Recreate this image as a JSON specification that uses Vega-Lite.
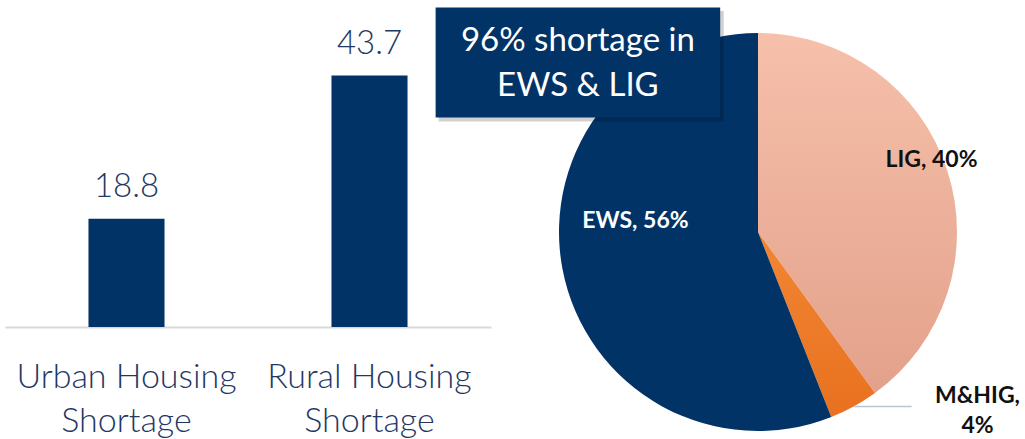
{
  "$schema": "https://vega.github.io/schema/vega-lite/v6.json",
  "padding": {"left": 5, "top": 7, "right": 0, "bottom": 0},
  "bounds": "flush",
  "spacing": 68,
  "config": {"view": {"stroke": null}, "font": "Lato"},
  "hconcat": [
    {
      "width": 486,
      "height": 294,
      "data": {"values": [
        {"category": "Urban Housing Shortage", "value": 18.8},
        {"category": "Rural Housing Shortage", "value": 43.7}
      ]},
      "encoding": {
        "x": {"field": "category", "type": "nominal", "sort": null, "title": null,
          "scale": {"paddingInner": 0, "paddingOuter": 0},
          "axis": {"labelAngle": 0, "ticks": false, "domainColor": "#D9D9D9", "domainWidth": 2,
            "labelFont": "Lato", "labelFontSize": 34, "labelFontWeight": 300, "labelColor": "#1F3864",
            "labelBaseline": "top", "labelPadding": 33, "labelLineHeight": 44, "labelLimit": 400,
            "labelExpr": "split(replace(datum.label, ' Shortage', '|Shortage'), '|')"}},
        "y": {"field": "value", "type": "quantitative", "scale": {"domain": [0, 51.1], "nice": false}, "axis": null}
      },
      "layer": [
        {"mark": {"type": "bar", "color": "#023366", "width": {"band": 0.313}}},
        {"mark": {"type": "text", "baseline": "alphabetic", "dy": -22, "fontSize": 33, "fontWeight": 300, "color": "#1F3864", "font": "Lato"},
         "encoding": {"text": {"field": "value", "type": "quantitative", "format": ".1f"}}}
      ]
    },
    {
      "width": 398,
      "height": 398,
      "data": {"values": [
        {"segment": "LIG", "share": 40, "rank": 1},
        {"segment": "M&HIG", "share": 4, "rank": 2},
        {"segment": "EWS", "share": 56, "rank": 3}
      ]},
      "layer": [
        {
          "mark": {"type": "arc"},
          "encoding": {
            "theta": {"field": "share", "type": "quantitative", "stack": true},
            "order": {"field": "rank", "type": "quantitative"},
            "color": {
              "condition": [
                {"test": "datum.segment == 'LIG'", "value": {"gradient": "linear", "x1": 0, "y1": 0, "x2": 0, "y2": 1, "stops": [{"offset": 0, "color": "#F6C0AA"}, {"offset": 1, "color": "#E3A18B"}]}},
                {"test": "datum.segment == 'M&HIG'", "value": {"gradient": "linear", "x1": 0, "y1": 0, "x2": 0, "y2": 1, "stops": [{"offset": 0, "color": "#F28634"}, {"offset": 1, "color": "#E8711F"}]}}
              ],
              "field": "segment", "type": "nominal", "legend": null,
              "scale": {"domain": ["LIG", "M&HIG", "EWS"], "range": ["#EFB49D", "#EE7A2A", "#023366"]}}
          }
        },
        {
          "transform": [{"filter": "datum.segment == 'LIG'"}],
          "mark": {"type": "text", "fontSize": 23, "fontWeight": "bold", "color": "#111111", "baseline": "alphabetic", "font": "Lato"},
          "encoding": {
            "x": {"datum": 0.872, "type": "quantitative", "scale": {"domain": [-1, 1], "nice": false, "zero": false}, "axis": null},
            "y": {"datum": 0.329, "type": "quantitative", "scale": {"domain": [-1, 1], "nice": false, "zero": false}, "axis": null},
            "text": {"value": "LIG, 40%"}
          }
        },
        {
          "transform": [{"filter": "datum.segment == 'EWS'"}],
          "mark": {"type": "text", "fontSize": 23, "fontWeight": "bold", "color": "#FFFFFF", "baseline": "alphabetic", "font": "Lato"},
          "encoding": {
            "x": {"datum": -0.616, "type": "quantitative"},
            "y": {"datum": 0.0226, "type": "quantitative"},
            "text": {"value": "EWS, 56%"}
          }
        },
        {
          "transform": [{"filter": "datum.segment == 'M&HIG'"}],
          "mark": {"type": "rule", "color": "#B9C5D5", "strokeWidth": 1.5},
          "encoding": {
            "x": {"datum": 0.482, "type": "quantitative"},
            "x2": {"datum": 0.772},
            "y": {"datum": -0.877, "type": "quantitative"}
          }
        },
        {
          "transform": [{"filter": "datum.segment == 'M&HIG'"}],
          "mark": {"type": "text", "fontSize": 23, "fontWeight": "bold", "color": "#111111", "baseline": "alphabetic", "lineHeight": 30, "font": "Lato"},
          "encoding": {
            "x": {"datum": 1.103, "type": "quantitative"},
            "y": {"datum": -0.857, "type": "quantitative"},
            "text": {"value": ["M&HIG,", "4%"]}
          }
        },
        {
          "transform": [{"filter": "datum.segment == 'EWS'"}],
          "mark": {"type": "rect", "color": "#000000", "opacity": 0.18},
          "encoding": {
            "x": {"datum": -1.605, "type": "quantitative"},
            "x2": {"datum": -0.172},
            "y": {"datum": 1.11, "type": "quantitative"},
            "y2": {"datum": 0.555}
          }
        },
        {
          "transform": [{"filter": "datum.segment == 'EWS'"}],
          "mark": {"type": "rect", "color": "#023366"},
          "encoding": {
            "x": {"datum": -1.62, "type": "quantitative"},
            "x2": {"datum": -0.19},
            "y": {"datum": 1.128, "type": "quantitative"},
            "y2": {"datum": 0.575}
          }
        },
        {
          "transform": [{"filter": "datum.segment == 'EWS'"}],
          "mark": {"type": "text", "fontSize": 33, "color": "#FFFFFF", "baseline": "alphabetic", "lineHeight": 45, "font": "Lato"},
          "encoding": {
            "x": {"datum": -0.905, "type": "quantitative"},
            "y": {"datum": 0.91, "type": "quantitative"},
            "text": {"value": ["96% shortage in", "EWS & LIG"]}
          }
        }
      ]
    }
  ]
}
